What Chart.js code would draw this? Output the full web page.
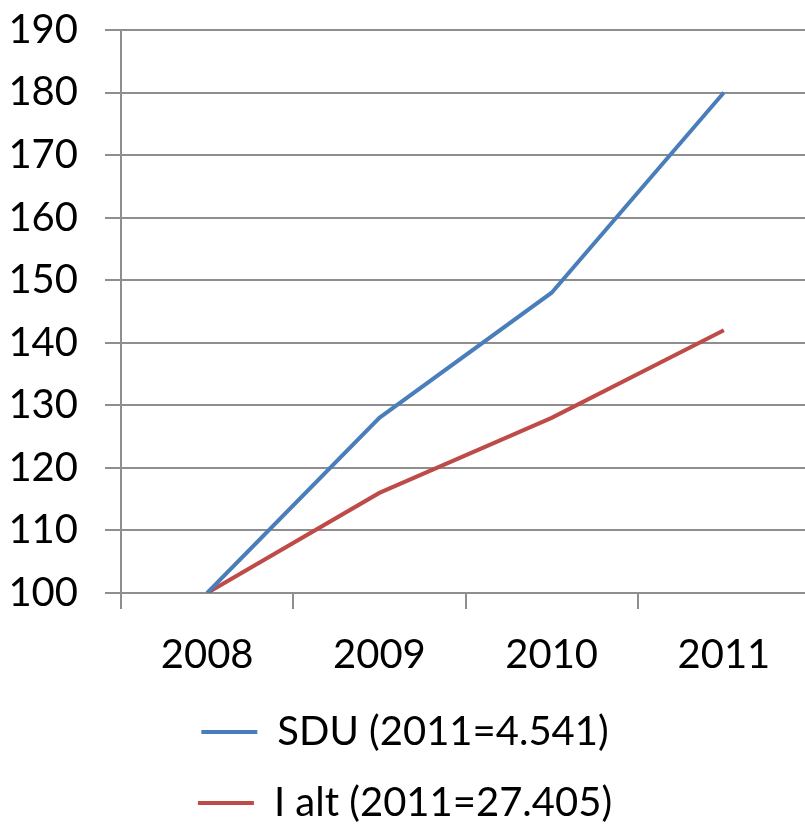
<!DOCTYPE html>
<html>
<head>
<meta charset="utf-8">
<script src="https://cdn.jsdelivr.net/npm/chart.js@4"></script>
<style>
  html, body { margin: 0; padding: 0; background: #fff; overflow: hidden; }
  #wrap { width: 812px; height: 833px; }
</style>
</head>
<body>
<div id="wrap"><canvas id="chart"></canvas></div>
<script>
const years = ["2008", "2009", "2010", "2011"];
const sduValues = [100, 128, 148, 180];
const totalValues = [100, 116, 128, 142];
const seriesNames = ["SDU (2011=4.541)", "I alt (2011=27.405)"];
const yTicks = [100, 110, 120, 130, 140, 150, 160, 170, 180, 190];

const font = { family: "Lato, 'Open Sans', sans-serif", size: 40 };
const gridColor = "#8e8e8e";

new Chart(document.getElementById("chart"), {
  type: "line",
  data: {
    labels: years,
    datasets: [
      { label: seriesNames[0], data: sduValues, borderColor: "#4a7ebb", backgroundColor: "#4a7ebb", borderWidth: 4 },
      { label: seriesNames[1], data: totalValues, borderColor: "#be4b48", backgroundColor: "#be4b48", borderWidth: 4 }
    ]
  },
  options: {
    responsive: true,
    maintainAspectRatio: false,
    animation: false,
    devicePixelRatio: 1,
    layout: { padding: { top: 0, right: 2, bottom: 0, left: 0 } },
    elements: {
      line: { tension: 0 },
      point: { radius: 0, hoverRadius: 0 }
    },
    scales: {
      x: {
        offset: true,
        clip: false,
        afterFit: scale => { scale.height = 88; },
        grid: { offset: true, drawOnChartArea: false, drawTicks: true, tickLength: 16, color: gridColor, lineWidth: 2 },
        border: { display: true, color: gridColor, width: 2 },
        ticks: { font: font, color: "#000", padding: 22, maxRotation: 0 }
      },
      y: {
        min: yTicks[0],
        max: yTicks[yTicks.length - 1],
        afterBuildTicks: scale => { scale.ticks = yTicks.map(v => ({ value: v })); },
        afterFit: scale => { scale.width = 121; scale.paddingTop = 30; },
        grid: { color: gridColor, lineWidth: 2, tickLength: 16 },
        border: { display: true, color: gridColor, width: 2 },
        ticks: { font: font, color: "#000", padding: 27 }
      }
    },
    plugins: {
      tooltip: { enabled: false },
      legend: {
        position: "bottom",
        labels: {
          font: font,
          color: "#000",
          usePointStyle: true,
          pointStyle: "line",
          pointStyleWidth: 56,
          boxWidth: 56,
          padding: 31
        }
      }
    }
  }
});
</script>
</body>
</html>
